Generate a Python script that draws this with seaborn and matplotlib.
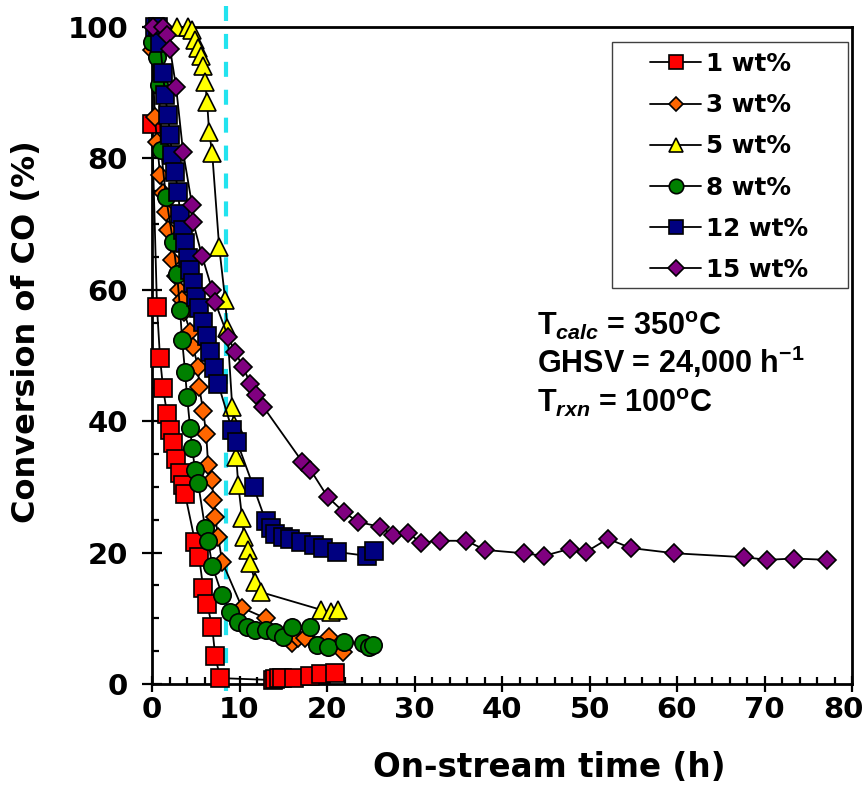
import matplotlib
matplotlib.use("Agg")
import matplotlib.pyplot as plt
import matplotlib.transforms as mtransforms
from matplotlib.ticker import MultipleLocator
from matplotlib.patches import Rectangle
import seaborn as sns

# ---- On-stream CO conversion for each metal loading ----
t_1 = [0, 0.57, 0.92, 1.26, 1.72, 2.06, 2.41, 2.75, 3.21, 3.55, 3.78, 4.93, 5.39, 5.85,
       6.30, 6.88, 7.22, 7.79, 13.8, 14.1, 14.5, 14.9, 16.2, 18.1, 19.3, 20.9]
co_1 = [85.2, 57.4, 49.6, 45.1, 41.1, 38.7, 36.7, 34.2, 32.1, 30.3, 28.9, 21.6, 19.3, 14.6,
        12.2, 8.7, 4.3, 0.9, 0.6, 0.8, 0.9, 0.9, 0.9, 1.2, 1.5, 1.7]

t_3 = [0, 0.34, 0.57, 0.92, 1.26, 1.60, 1.83, 2.29, 2.75, 3.09, 3.44, 3.67, 4.36, 4.70,
       5.27, 5.39, 5.85, 6.19, 6.42, 6.88, 6.99, 7.22, 7.56, 8.02, 10.3, 13.0, 16.0, 16.7,
       17.5, 20.2, 21.8]
co_3 = [96.5, 86.3, 82.5, 77.5, 74.7, 71.8, 69.1, 64.5, 62.1, 60.0, 58.4, 56.6, 53.6, 51.3,
        48.2, 45.2, 41.6, 38.1, 33.3, 31.1, 28.0, 25.4, 22.4, 18.6, 11.6, 10.0, 6.2, 7.0,
        7.0, 7.2, 4.9]

t_5 = [2.87, 4.13, 4.58, 4.93, 5.27, 5.62, 5.85, 6.07, 6.30, 6.53, 6.88, 7.68, 8.37, 8.60,
       9.17, 9.40, 9.63, 9.86, 10.3, 10.5, 11.0, 11.2, 11.8, 12.4, 19.3, 20.4, 21.2]
co_5 = [100, 100, 99.5, 98.0, 96.8, 95.6, 94.1, 91.6, 88.6, 84.0, 80.8, 66.5, 58.4, 54.2,
        42.2, 39.4, 34.5, 30.3, 25.3, 22.4, 20.4, 18.4, 15.5, 14.0, 11.3, 11.0, 11.3]

t_8 = [0, 0.57, 0.80, 1.03, 1.60, 2.41, 2.87, 3.21, 3.44, 3.78, 4.01, 4.36, 4.58, 4.93,
       5.27, 6.07, 6.42, 6.88, 8.02, 8.94, 9.86, 10.9, 11.8, 13.0, 14.0, 15.0, 16.0, 18.1,
       18.9, 20.1, 21.9, 24.1, 24.8, 25.2]
co_8 = [97.7, 95.4, 91.2, 81.3, 74.1, 67.3, 62.4, 56.9, 52.4, 47.5, 43.7, 39.0, 35.9, 32.6,
        30.6, 23.7, 21.8, 18.0, 13.5, 11.0, 9.4, 8.7, 8.2, 8.2, 7.9, 7.2, 8.7, 8.7,
        5.9, 5.6, 6.4, 6.2, 5.6, 5.9]

t_12 = [0.34, 0.69, 0.92, 1.26, 1.49, 1.83, 2.06, 2.29, 2.64, 2.98, 3.21, 3.55, 3.78, 4.13,
        4.36, 4.70, 5.04, 5.39, 5.85, 6.30, 6.65, 7.11, 7.56, 9.17, 9.74, 11.6, 13.0, 13.6,
        14.1, 15.0, 15.8, 17.0, 18.5, 19.5, 21.1, 24.6, 25.4]
co_12 = [100, 100, 97.6, 93.0, 89.6, 86.6, 83.6, 80.5, 77.9, 74.9, 71.5, 69.1, 67.1, 64.8,
         63.0, 61.0, 58.9, 57.2, 55.1, 52.9, 50.5, 48.1, 45.7, 38.6, 36.8, 30.0, 24.8, 23.7,
         22.8, 22.4, 22.1, 21.6, 21.2, 20.7, 20.1, 19.5, 20.3]

t_15 = [0.11, 1.26, 1.72, 2.06, 2.75, 3.55, 4.58, 4.70, 5.73, 6.88, 7.22, 8.71, 9.51, 10.43,
        11.23, 11.92, 12.72, 17.19, 18.11, 20.06, 21.89, 23.5, 26.1, 27.5, 29.3, 30.7, 32.9,
        35.9, 38.1, 42.5, 44.8, 47.8, 49.6, 52.1, 54.7, 59.7, 67.7, 70.3, 73.4, 77.1]
co_15 = [100, 100, 98.8, 96.7, 90.9, 81.0, 72.9, 70.3, 65.1, 60.0, 58.1, 52.8, 50.5, 48.2,
         45.7, 44.0, 42.2, 33.8, 32.6, 28.5, 26.2, 24.7, 23.9, 22.7, 23.0, 21.5, 21.8,
         21.8, 20.4, 19.9, 19.5, 20.6, 20.1, 22.1, 20.7, 19.9, 19.3, 18.9, 19.1, 18.9]

labels = ["1 wt%", "3 wt%", "5 wt%", "8 wt%", "12 wt%", "15 wt%"]
times = [t_1, t_3, t_5, t_8, t_12, t_15]
conversions = [co_1, co_3, co_5, co_8, co_12, co_15]
colors = ["#FF0000", "#FF6600", "#FFFF00", "#008000", "#000080", "#800080"]
markers = ["s", "D", "^", "o", "s", "D"]
sizes = [12.5, 9.0, 13, 12.5, 13, 9.5]

# time at which the reference line is drawn, and its vertical extent
cutoff_time = 8.5
cutoff_span = [-1.0, 103.7]

sns.set_theme(style="white")
plt.rcParams["font.family"] = ["DejaVu Sans"]
plt.rcParams["font.weight"] = "bold"
plt.rcParams["text.color"] = "black"
plt.rcParams["axes.labelcolor"] = "black"
plt.rcParams["xtick.color"] = "black"
plt.rcParams["ytick.color"] = "black"
plt.rcParams["mathtext.fontset"] = "custom"
plt.rcParams["mathtext.rm"] = "Liberation Sans:bold"
plt.rcParams["mathtext.it"] = "Liberation Sans:italic:bold"
plt.rcParams["mathtext.bf"] = "Liberation Sans:bold"

fig = plt.figure(figsize=(8.65, 8.09), dpi=100)
ax = fig.add_axes([152 / 865, 1 - 684 / 809, 700 / 865, 657 / 809])

ax.plot([cutoff_time, cutoff_time], cutoff_span, color="#22E3EF", lw=3,
        linestyle=(0, (3.6, 3.1)), clip_on=False, zorder=1)

for i in range(len(labels)):
    sns.lineplot(x=times[i], y=conversions[i], ax=ax, sort=False, estimator=None,
                 color="black", lw=1.3, marker=markers[i], ms=sizes[i],
                 mfc=colors[i], mec="black", mew=1.2, label=labels[i],
                 clip_on=False, zorder=3 + i)

ax.set_xlim(0, 80)
ax.set_ylim(0, 100)
ax.set_xticks(range(0, 81, 10))
ax.set_yticks(range(0, 101, 20))
ax.xaxis.set_minor_locator(MultipleLocator(2))
ax.yaxis.set_minor_locator(MultipleLocator(5))

for side in ["left", "bottom", "right", "top"]:
    ax.spines[side].set_visible(True)
    ax.spines[side].set_color("black")
    ax.spines[side].set_linewidth(2)
    ax.spines[side].set_zorder(2)

ax.tick_params(axis="y", which="major", direction="inout", length=14.4, width=1.6,
               color="black", labelcolor="black", labelsize=21, pad=10, left=True)
ax.tick_params(axis="x", which="major", direction="inout", length=11.5, width=1.6,
               color="black", labelcolor="black", labelsize=21, pad=3, bottom=True)
ax.tick_params(which="minor", direction="in", length=5, width=1.6, color="black",
               left=True, bottom=True)
ax.tick_params(top=False, right=False, which="both")
for lbl in ax.get_xticklabels() + ax.get_yticklabels():
    lbl.set_fontweight("bold")
# keep the last x tick label inside the canvas
last = ax.get_xticklabels()[-1]
last.set_transform(last.get_transform() +
                   mtransforms.ScaledTranslation(-9 / 100, 0, fig.dpi_scale_trans))

ax.set_xlabel("On-stream time (h)", fontsize=23.5, fontweight="bold", color="black")
ax.set_ylabel("Conversion of CO (%)", fontsize=23, fontweight="bold", color="black")
ax.xaxis.set_label_coords(0.567, -0.102)
ax.yaxis.set_label_coords(-0.157, 0.536)

leg = ax.legend(loc="upper left", bbox_to_anchor=(0.711, 0.962), frameon=False,
                fontsize=17.7, handlelength=2.1, handletextpad=0.2, labelspacing=0.70,
                markerscale=0.83, borderpad=0, borderaxespad=0)
for txt in leg.get_texts():
    txt.set_fontweight("bold")
    txt.set_color("black")
ax.add_patch(Rectangle((0.657, 0.603), 0.337, 0.374, transform=ax.transAxes,
                       fill=False, ec="#404040", lw=1.0, clip_on=False, zorder=10))

note_style = dict(transform=ax.transAxes, fontsize=22, fontweight="bold",
                  family="Liberation Sans", va="baseline", ha="left", color="black")
ax.text(0.55, 0.531, r"T$_{\mathit{calc}}$ = 350$^{\mathrm{o}}$C", **note_style)
ax.text(0.55, 0.473, r"GHSV = 24,000 h$^{\mathrm{-1}}$", **note_style)
ax.text(0.55, 0.414, r"T$_{\mathit{rxn}}$ = 100$^{\mathrm{o}}$C", **note_style)

fig.savefig("out.png", dpi=100)
